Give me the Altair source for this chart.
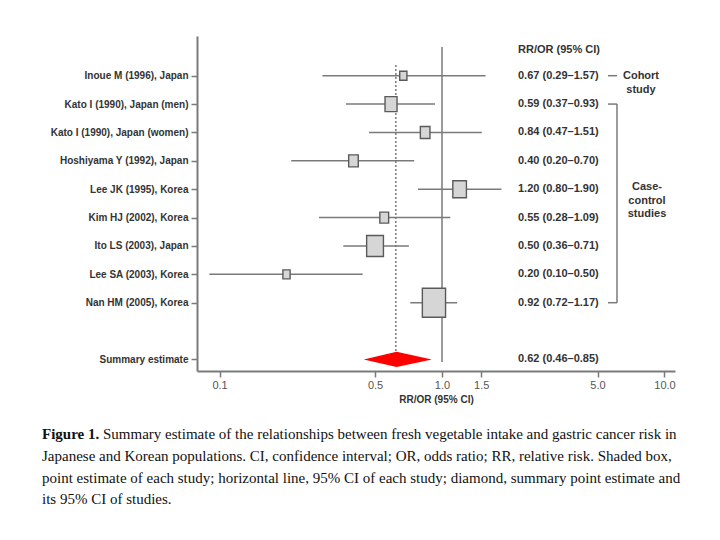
import altair as alt
import pandas as pd

# ---------------- data ----------------
studies = [
    "Inoue M (1996), Japan",
    "Kato I (1990), Japan (men)",
    "Kato I (1990), Japan (women)",
    "Hoshiyama Y (1992), Japan",
    "Lee JK (1995), Korea",
    "Kim HJ (2002), Korea",
    "Ito LS (2003), Japan",
    "Lee SA (2003), Korea",
    "Nan HM (2005), Korea",
]
design = ["Cohort", "Case-control", "Case-control", "Case-control", "Case-control",
          "Case-control", "Case-control", "Case-control", "Case-control"]
est = [0.67, 0.59, 0.84, 0.40, 1.20, 0.55, 0.50, 0.20, 0.92]
ci_lo_txt = ["0.29", "0.37", "0.47", "0.20", "0.80", "0.28", "0.36", "0.10", "0.72"]
ci_hi_txt = ["1.57", "0.93", "1.51", "0.70", "1.90", "1.09", "0.71", "0.50", "1.17"]
est_txt = ["0.67", "0.59", "0.84", "0.40", "1.20", "0.55", "0.50", "0.20", "0.92"]
# CI lines as drawn in the figure
line_lo = [0.29, 0.37, 0.47, 0.21, 0.78, 0.28, 0.36, 0.09, 0.72]
line_hi = [1.57, 0.93, 1.51, 0.75, 1.85, 1.09, 0.71, 0.44, 1.17]
# relative box size (study weight)
weights = [9, 15, 12, 12, 17, 11, 21, 9, 29]

summary_label = "Summary estimate"
summary_est = 0.625
summary_lo = 0.445
summary_hi = 0.90
summary_txt = "0.62 (0.46\u20130.85)"
summary_line = 0.62

x_ticks = [0.1, 0.5, 1.0, 1.5, 5.0, 10.0]
header = "RR/OR (95% CI)"
x_title = "RR/OR (95% CI)"

caption_bold = "Figure 1."
caption_l1 = "Summary estimate of the relationships between fresh vegetable intake and gastric cancer risk in"
caption_l2 = "Japanese and Korean populations. CI, confidence interval; OR, odds ratio; RR, relative risk. Shaded box,"
caption_l3 = "point estimate of each study; horizontal line, 95% CI of each study; diamond, summary point estimate and"
caption_l4 = "its 95% CI of studies."

# ---------------- frames ----------------
n = len(studies)
summary_row = n + 1
df = pd.DataFrame({
    "study": studies,
    "row": list(range(n)),
    "est": est,
    "lo": line_lo,
    "hi": line_hi,
    "size": [w * w for w in weights],
    "label": [f"{e} ({l}\u2013{h})" for e, l, h in zip(est_txt, ci_lo_txt, ci_hi_txt)],
    "design": design,
})

sum_df = pd.DataFrame({"row": [summary_row], "label": [summary_txt], "est": [summary_line]})
half = 0.27
diamond = pd.DataFrame({
    "x": [summary_lo, summary_est, summary_hi],
    "row": [summary_row, summary_row - half, summary_row],
    "y2": [summary_row, summary_row + half, summary_row],
})

cc = df[df.design == "Case-control"]
cc_ext = pd.DataFrame({"row": [cc.row.min()], "r2": [cc.row.max()]})
cc_ends = pd.DataFrame({"row": [cc.row.min(), cc.row.max()]})
co_df = df[df.design == "Cohort"][["row"]]

names = studies + [""] + [summary_label]
label_expr = "[" + ",".join("'" + s + "'" for s in names) + "][datum.value]"

W, H = 478, 335
row_step = 28.375
y_dom = [(36 - 75.7) / row_step, (371 - 75.7) / row_step]
xs = alt.Scale(type="log", domain=[0.0792, 11.15], nice=False)
ys = alt.Scale(domain=y_dom, reverse=True, nice=False, zero=False)

GRAY = "#7a7a7a"
TXT = "#333333"
FONT = "Liberation Sans"

x_axis = alt.Axis(values=x_ticks, labelExpr="format(datum.value, '.1f')", grid=False,
                  title=x_title, titleFont=FONT, titleFontSize=10, titleFontWeight="bold",
                  titleColor=TXT, titlePadding=4, labelFont=FONT, labelFontSize=11,
                  labelColor="#555555", labelPadding=2, tickSize=6, tickColor=GRAY,
                  tickWidth=1.5, domainColor=GRAY, domainWidth=2, labelFlush=False)
y_axis = alt.Axis(values=list(range(n)) + [summary_row], labelExpr=label_expr, grid=False,
                  title=None, labelFont=FONT, labelFontSize=10, labelFontWeight="bold",
                  labelColor=TXT, labelPadding=3, tickSize=6, tickColor=GRAY, tickWidth=1.5,
                  domainColor=GRAY, domainWidth=2)


def X(field):
    return alt.X(field, scale=xs, axis=x_axis, title=x_title)


def Y(field):
    return alt.Y(field, scale=ys, axis=y_axis, title=None)


ci = alt.Chart(df).mark_rule(color=GRAY, strokeWidth=1.5).encode(
    x=X("lo:Q"), x2="hi:Q", y=Y("row:Q"))

ref1 = alt.Chart(pd.DataFrame({"lo": [1.0]})).mark_rule(color=GRAY, strokeWidth=1.5).encode(
    x=X("lo:Q"), y=alt.value(11), y2=alt.value(326))

dotted = alt.Chart(sum_df.rename(columns={"est": "lo"})).mark_rule(
    color=GRAY, strokeWidth=1.5, strokeDash=[2, 2]).encode(
    x=X("lo:Q"), y=alt.value(29), y2=alt.value(317))

boxes = alt.Chart(df.drop(columns=["lo"]).rename(columns={"est": "lo"})).mark_point(
    shape="M-0.8,-1L0.8,-1L0.8,1L-0.8,1Z", filled=True, fill="#d6d6d6",
    stroke="#5a5a5a", strokeWidth=1.4, opacity=1).encode(
    x=X("lo:Q"), y=Y("row:Q"),
    size=alt.Size("size:Q", scale=None, legend=None),
)

dia = alt.Chart(diamond.rename(columns={"x": "lo"})).mark_area(color="#ff0000", opacity=1).encode(
    x=X("lo:Q"), y=Y("row:Q"), y2="y2:Q")

vals = alt.Chart(pd.concat([df[["row", "label"]], sum_df[["row", "label"]]])).mark_text(
    align="left", baseline="middle", font=FONT, fontSize=11, fontWeight="bold", color=TXT).encode(
    x=alt.value(321), y=Y("row:Q"), text="label:N")


def txt(s, x, y, **kw):
    base = dict(align="left", baseline="middle", font=FONT, fontSize=11,
                fontWeight="bold", color=TXT)
    base.update(kw)
    return alt.Chart(pd.DataFrame({"t": [s]})).mark_text(**base).encode(
        x=alt.value(x), y=alt.value(y), text="t:N")


head = txt(header, 321, 14)

co_dash = alt.Chart(co_df).mark_rule(color=GRAY, strokeWidth=1.5).encode(
    x=alt.value(411), x2=alt.value(420), y=Y("row:Q"))
cc_h = alt.Chart(cc_ends).mark_rule(color=GRAY, strokeWidth=1.5).encode(
    x=alt.value(411), x2=alt.value(420), y=Y("row:Q"))
cc_v = alt.Chart(cc_ext).mark_rule(color=GRAY, strokeWidth=1.5).encode(
    x=alt.value(420), y=Y("row:Q"), y2="r2:Q")

grp = [
    txt("Cohort", 444, 40, align="center"),
    txt("study", 444, 54, align="center"),
    txt("Case-", 450, 151, align="center"),
    txt("control", 450, 165, align="center"),
    txt("studies", 450, 178, align="center"),
]

SERIF = "Liberation Serif"
CAPC = "#111111"
cap = [
    txt(caption_bold, -155, 398, font=SERIF, fontSize=15, color=CAPC),
    txt(caption_l1, -94, 398, font=SERIF, fontSize=15, fontWeight="normal", color=CAPC),
    txt(caption_l2, -155, 420, font=SERIF, fontSize=15, fontWeight="normal", color=CAPC),
    txt(caption_l3, -155, 442, font=SERIF, fontSize=15, fontWeight="normal", color=CAPC),
    txt(caption_l4, -155, 463, font=SERIF, fontSize=15, fontWeight="normal", color=CAPC),
]

chart = alt.layer(ci, ref1, dotted, dia, boxes, vals, head, co_dash, cc_h, cc_v, *grp, *cap).properties(
    width=W, height=H,
    background="white",
    autosize=alt.AutoSizeParams(type="none"),
    padding={"left": 189, "top": 28, "right": 30, "bottom": 160},
).configure_view(stroke=None)

chart.save("out.html", embed_options={"renderer": "svg", "actions": False})
